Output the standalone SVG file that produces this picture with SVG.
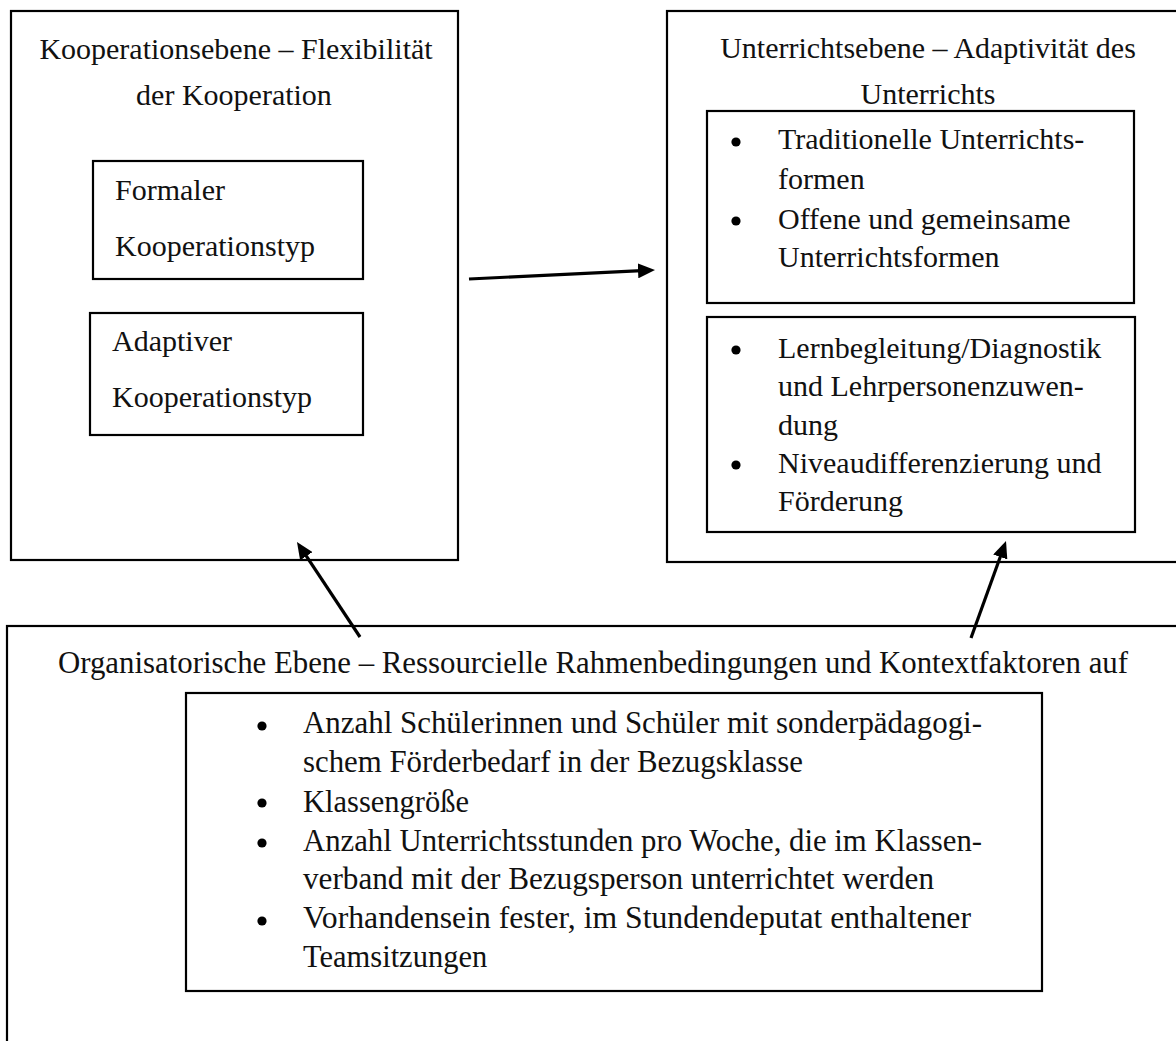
<svg xmlns="http://www.w3.org/2000/svg" width="1176" height="1041" viewBox="0 0 1176 1041">
<style>
.box{fill:none;stroke:#000;stroke-width:2.2}
.t{font-family:"Liberation Serif","Times New Roman",serif;font-size:30px;fill:#111}
.b{font-family:"Liberation Serif","Times New Roman",serif;font-size:30.5px;fill:#111}
.c{text-anchor:middle}
.dot{fill:#000}
.arr{stroke:#000;stroke-width:3.2;fill:none;marker-end:url(#ah)}
</style>
<defs>
<marker id="ah" viewBox="0 0 17 15" refX="9" refY="7.5" markerWidth="17" markerHeight="15" markerUnits="userSpaceOnUse" orient="auto">
<path d="M0,0 L17,7.5 L0,15 Z" fill="#000"/>
</marker>
</defs>
<rect width="1176" height="1041" fill="#fff"/>

<g id="kooperationsebene">
<rect class="box" x="11" y="11" width="447" height="549"/>
<text class="t c" x="236" y="59">Kooperationsebene – Flexibilität</text>
<text class="t c" x="234" y="105">der Kooperation</text>
</g>

<g id="formaler">
<rect class="box" x="93" y="161" width="270" height="118"/>
<text class="t" x="115" y="200">Formaler</text>
<text class="t" x="115" y="256">Kooperationstyp</text>
</g>

<g id="adaptiver">
<rect class="box" x="90" y="313" width="273" height="122"/>
<text class="t" x="112" y="351">Adaptiver</text>
<text class="t" x="112" y="407">Kooperationstyp</text>
</g>

<g id="unterrichtsebene">
<rect class="box" x="667" y="11" width="600" height="551"/>
<text class="t c" x="928" y="58">Unterrichtsebene – Adaptivität des</text>
<text class="t c" x="928" y="104">Unterrichts</text>
</g>

<g id="unterrichtsformen">
<rect class="box" x="707" y="111" width="427" height="192"/>
<circle class="dot" cx="736" cy="142" r="4.6"/>
<circle class="dot" cx="736" cy="221" r="4.6"/>
<text class="t" x="778" y="149">Traditionelle Unterrichts-</text>
<text class="t" x="778" y="189">formen</text>
<text class="t" x="778" y="229">Offene und gemeinsame</text>
<text class="t" x="778" y="267">Unterrichtsformen</text>
</g>

<g id="lernbegleitung">
<rect class="box" x="707" y="317" width="428" height="215"/>
<circle class="dot" cx="736" cy="350" r="4.6"/>
<circle class="dot" cx="736" cy="465" r="4.6"/>
<text class="t" x="778" y="358">Lernbegleitung/Diagnostik</text>
<text class="t" x="778" y="396">und Lehrpersonenzuwen-</text>
<text class="t" x="778" y="435">dung</text>
<text class="t" x="778" y="473">Niveaudifferenzierung und</text>
<text class="t" x="778" y="511">Förderung</text>
</g>

<g id="organisatorische-ebene">
<rect class="box" x="7" y="626" width="1200" height="500"/>
<text class="b" x="58" y="673" textLength="1070" lengthAdjust="spacingAndGlyphs">Organisatorische Ebene – Ressourcielle Rahmenbedingungen und Kontextfaktoren auf</text>
</g>

<g id="kontextfaktoren">
<rect class="box" x="186" y="693" width="856" height="298"/>
<circle class="dot" cx="262" cy="726" r="4.6"/>
<circle class="dot" cx="262" cy="803" r="4.6"/>
<circle class="dot" cx="262" cy="843" r="4.6"/>
<circle class="dot" cx="262" cy="921" r="4.6"/>
<text class="b" x="303" y="733" textLength="679" lengthAdjust="spacingAndGlyphs">Anzahl Schülerinnen und Schüler mit sonderpädagogi-</text>
<text class="b" x="303" y="772" textLength="500" lengthAdjust="spacingAndGlyphs">schem Förderbedarf in der Bezugsklasse</text>
<text class="b" x="303" y="812">Klassengröße</text>
<text class="b" x="303" y="851" textLength="679" lengthAdjust="spacingAndGlyphs">Anzahl Unterrichtsstunden pro Woche, die im Klassen-</text>
<text class="b" x="303" y="889" textLength="631" lengthAdjust="spacingAndGlyphs">verband mit der Bezugsperson unterrichtet werden</text>
<text class="b" x="303" y="928" textLength="668" lengthAdjust="spacingAndGlyphs">Vorhandensein fester, im Stundendeputat enthaltener</text>
<text class="b" x="303" y="967">Teamsitzungen</text>
</g>

<g id="connectors">
<line class="arr" x1="469" y1="279" x2="647" y2="270.4"/>
<line class="arr" x1="360" y1="637" x2="301.4" y2="548.7"/>
<line class="arr" x1="971" y1="638" x2="1003.3" y2="548.5"/>
</g>
</svg>
